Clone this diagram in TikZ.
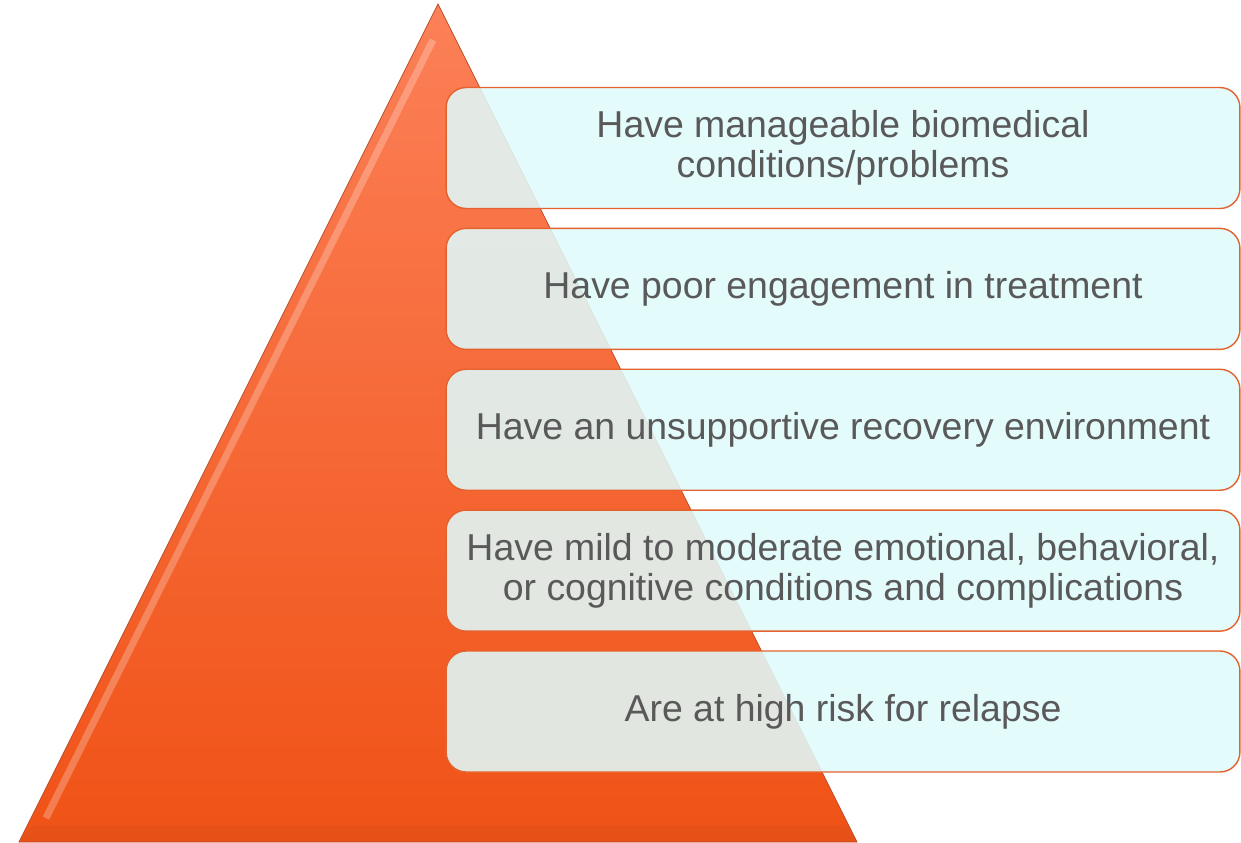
\documentclass[tikz,border=0pt]{standalone}
\usepackage{fontspec}
\setmainfont{Liberation Sans}
\definecolor{boxfill}{RGB}{224,250,251}
\definecolor{boxline}{RGB}{228,98,45}
\definecolor{textgray}{RGB}{89,89,89}
\definecolor{pyrtop}{RGB}{252,128,88}
\definecolor{pyrbottom}{RGB}{240,82,22}
\definecolor{pyrline}{RGB}{185,78,40}
\usetikzlibrary{positioning}

\begin{document}
\begin{tikzpicture}[x=0.02cm, y=-0.02cm,
            item/.style={
                rectangle, rounded corners=0.4cm, thick,
                draw=boxline, fill=boxfill,
                fill opacity=0.88, text opacity=1,
                text=textgray,
                minimum width=15.88cm,
                minimum height=2.42cm,
                align=center, inner sep=2pt,
                font=\fontsize{21.3}{22.5}\selectfont
            },
        ]

            \useasboundingbox (0,0) rectangle (1241,842);

            % pyramid
            \shade [top color=pyrtop, bottom color=pyrbottom, draw=pyrline]
                (438,4) -- (857,842) -- (19,842) -- cycle;
            \draw [white, opacity=0.25, line width=4pt] (433,40) -- (46,818);
            \fill [pyrline, opacity=0.15] (33,825) -- (849,825) -- (857,842) -- (19,842) -- cycle;

            \node [item] (conditions) at (843,148)
                {Have manageable biomedical\\conditions/problems};
            \node [item] (engagement) [ below= 0.37cm of conditions ]
                {Have poor engagement in treatment};
            \node [item] (environment) [ below= 0.37cm of engagement ]
                {Have an unsupportive recovery environment};
            \node [item] (emotional) [ below= 0.37cm of environment ]
                {Have mild to moderate emotional, behavioral,\\or cognitive conditions and complications};
            \node [item] (relapse) [ below= 0.37cm of emotional ]
                {Are at high risk for relapse};

        \end{tikzpicture}
\end{document}
